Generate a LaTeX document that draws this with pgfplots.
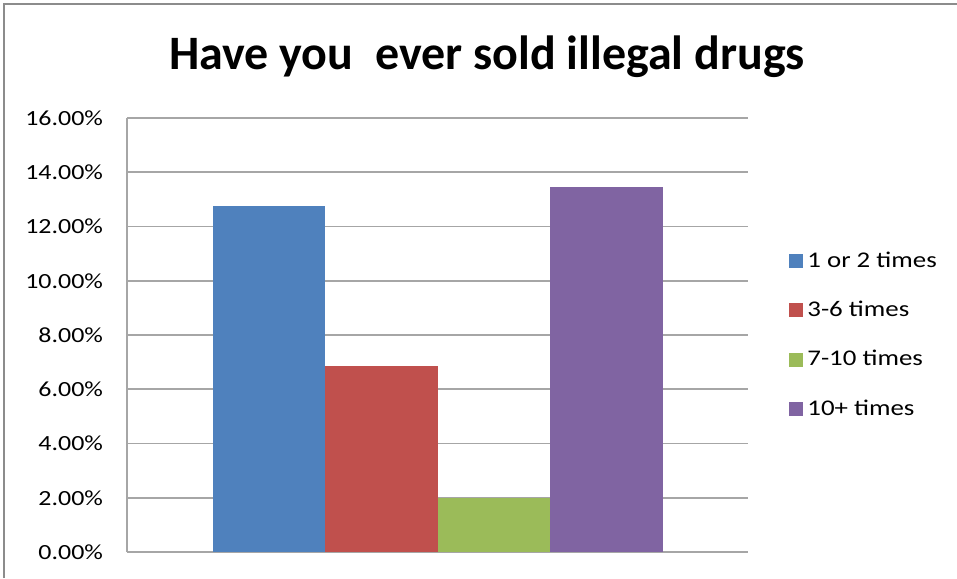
\documentclass[border=0pt]{standalone}
\usepackage{fontspec}
\setmainfont{Carlito}[FakeStretch=1.2]
\newfontfamily\titlefont{Carlito}
\usepackage{pgfplots}
\pgfplotsset{compat=1.18}
\definecolor{cblue}{HTML}{4F81BD}
\definecolor{cred}{HTML}{C0504D}
\definecolor{cgreen}{HTML}{9BBB59}
\definecolor{cpurple}{HTML}{8064A2}
\definecolor{gridc}{HTML}{A6A6A6}
\definecolor{framec}{HTML}{8C8C8C}
\begin{document}
\begin{tikzpicture}
\useasboundingbox (-63.5pt,-13pt) rectangle (415pt,276pt);
\draw[framec, line width=1.2pt] (-61.5pt,-13pt) -- (-61.5pt,274pt) -- (415pt,274pt);
\begin{axis}[
  at={(0pt,0pt)}, anchor=south west,
  scale only axis,
  width=310.5pt, height=217pt,
  xmin=-2.76, xmax=2.76,
  ymin=0, ymax=16,
  ytick={0,2,...,16},
  xtick=\empty,
  ybar, bar width=1, bar shift=0pt,
  ymajorgrids,
  grid style={gridc, line width=0.8pt},
  axis line style={gridc, line width=0.8pt},
  axis x line*=bottom,
  axis y line*=left,
  y axis line style={-},
  x axis line style={-},
  tick style={draw=none},
  /pgf/number format/assume math mode=true,
  yticklabel={\pgfmathprintnumber[fixed,fixed zerofill,precision=2]{\tick}\%},
  yticklabel style={font=\fontsize{10.8}{12}\selectfont, xshift=-8.5pt},
  legend style={at={(1.066,0.5)}, anchor=west, draw=none, font=\fontsize{11.2}{12}\selectfont, row sep=11.5pt, inner sep=0pt},
  legend cell align=left,
  legend image code/.code={\fill[#1, draw=none] (0pt,-3.5pt) rectangle (7pt,3.5pt);},
  clip=false,
]
\addplot[fill=cblue, draw=none] coordinates {(-1.5,12.74)};
\addplot[fill=cred, draw=none] coordinates {(-0.5,6.85)};
\addplot[fill=cgreen, draw=none] coordinates {(0.5,2.0)};
\addplot[fill=cpurple, draw=none] coordinates {(1.5,13.44)};
\legend{1 or 2 times,3-6 times,7-10 times,10+ times}
\end{axis}
\node[font=\titlefont\fontsize{24}{28}\selectfont\bfseries] at (180pt,247.5pt) {Have you\ \ ever sold illegal drugs};
\end{tikzpicture}
\end{document}
